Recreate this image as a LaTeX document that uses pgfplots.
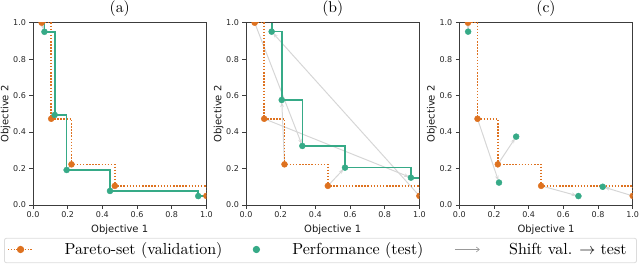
\documentclass[border=0pt]{standalone}
\usepackage{fontspec}
\usepackage{graphicx}
\usepackage{pgfplots}
\pgfplotsset{compat=1.18}
\usetikzlibrary{arrows.meta}
\newfontfamily\dejavu{DejaVu Sans}
\definecolor{dorange}{HTML}{D95F02}
\definecolor{dgreen}{HTML}{1B9E77}
\definecolor{sgrey}{HTML}{D6D6D6}
\definecolor{spine}{HTML}{3C3C3C}
\definecolor{lframe}{HTML}{DCDCDC}
\colorlet{lorange}{dorange!88!white}
\colorlet{lgreen}{dgreen!88!white}

\pgfplotsset{
  panel/.style={
    scale only axis, width=173.4pt, height=182.3pt, anchor=south west,
    xmin=0, xmax=1, ymin=0, ymax=1,
    xtick={0,0.2,0.4,0.6,0.8,1}, ytick={0,0.2,0.4,0.6,0.8,1},
    /pgf/number format/fixed, /pgf/number format/fixed zerofill,
    /pgf/number format/precision=1, /pgf/number format/assume math mode=true,
    tick label style={font=\dejavu\fontsize{8}{9.6}\selectfont, text=black!85},
    label style={font=\dejavu\fontsize{10}{12}\selectfont, text=black!90},
    xlabel={Objective 1}, ylabel={Objective 2},
    ylabel shift=-4pt,
    tick align=outside, xtick pos=left, ytick pos=left,
    major tick length=3.5pt,
    tick style={spine, line width=0.8pt},
    axis line style={spine, line width=0.8pt},
    title style={inner sep=0pt},
    clip marker paths=true,
  },
  valstep/.style={lorange, line width=1.5pt, dash pattern=on 1.5pt off 1.6pt, const plot, mark=none, forget plot},
  teststep/.style={lgreen, line width=1.7pt, const plot, mark=none, forget plot},
  valmark/.style={only marks, mark=*, mark size=3pt, mark options={fill=lorange, draw=lorange}, forget plot},
  testmark/.style={only marks, mark=*, mark size=3pt, mark options={fill=lgreen, draw=lgreen}, forget plot},
  shift/.style={sgrey, line width=1pt, -{Stealth[length=5pt,width=3.6pt]}, mark=none, shorten >=2pt, forget plot},
}

\pgfplotstableread{
x y
0.050 1.000
0.105 0.473
0.222 0.223
0.472 0.105
1.000 0.050
}\valdata

\pgfplotstableread{
x y
0.066 0.950
0.125 0.494
0.194 0.192
0.444 0.077
0.953 0.049
}\testa

\pgfplotstableread{
x y
0.066 1.000
0.066 0.950
0.125 0.494
0.194 0.192
0.444 0.077
0.953 0.049
1.000 0.049
}\testastep

\pgfplotstableread{
x y
0.148 0.951
0.206 0.576
0.325 0.324
0.571 0.205
0.951 0.150
}\testb

\pgfplotstableread{
x y
0.148 1.000
0.148 0.951
0.206 0.576
0.325 0.324
0.571 0.205
0.951 0.150
1.000 0.150
}\testbstep

\pgfplotstableread{
x y
0.051 0.951
0.229 0.123
0.328 0.375
0.687 0.049
0.827 0.100
}\testc

\begin{document}
\begin{tikzpicture}
\path[use as bounding box] (0,0) rectangle (640pt,265pt);

% ---------------- (a)
\begin{axis}[panel, at={(33pt,60pt)}, title={\scalebox{1.56}{(a)}}]
\addplot[shift] coordinates {(0.050,1.000) (0.066,0.950)};
\addplot[shift] coordinates {(0.105,0.473) (0.125,0.494)};
\addplot[shift] coordinates {(0.222,0.223) (0.194,0.192)};
\addplot[shift] coordinates {(0.472,0.105) (0.444,0.077)};
\addplot[shift] coordinates {(1.000,0.050) (0.953,0.049)};
\addplot[valstep] table {\valdata};
\addplot[teststep] table {\testastep};
\addplot[valmark] table {\valdata};
\addplot[testmark] table {\testa};
\end{axis}

% ---------------- (b)
\begin{axis}[panel, at={(246pt,60pt)}, title={\scalebox{1.56}{(b)}},
  legend columns=3,
  legend cell align=left,
  legend style={at={(-1.3956,-0.2496)}, anchor=west,
    draw=lframe, line width=0.8pt, rounded corners=2pt,
    inner xsep=3pt, inner ysep=4.2pt,
    nodes={inner sep=0pt, text height=12pt, text depth=4pt},
    /tikz/column 1/.style={column sep=31pt},
    /tikz/column 2/.style={column sep=21.5pt},
    /tikz/column 3/.style={column sep=23.5pt},
    /tikz/column 4/.style={column sep=31pt},
    /tikz/column 5/.style={column sep=29pt},
  }]
\addplot[shift] coordinates {(0.050,1.000) (0.325,0.324)};
\addplot[shift] coordinates {(0.105,0.473) (0.951,0.150)};
\addplot[shift] coordinates {(0.222,0.223) (0.206,0.576)};
\addplot[shift] coordinates {(0.472,0.105) (0.571,0.205)};
\addplot[shift] coordinates {(1.000,0.050) (0.148,0.951)};
\addplot[valstep] table {\valdata};
\addplot[teststep] table {\testbstep};
\addplot[valmark] table {\valdata};
\addplot[testmark] table {\testb};
\addlegendimage{legend image code/.code={
  \draw[lorange, line width=1.3pt, dash pattern=on 1.3pt off 1.5pt] (0pt,1pt) -- (25pt,1pt);
  \fill[lorange] (12.5pt,1pt) circle (3.2pt);}}
\addlegendentry{\scalebox{1.6}{Pareto-set (validation)}}
\addlegendimage{legend image code/.code={
  \path[draw=none] (0pt,1pt) -- (25pt,1pt);
  \fill[lgreen] (12.5pt,1pt) circle (3.2pt);}}
\addlegendentry{\scalebox{1.6}{Performance (test)}}
\addlegendimage{legend image code/.code={
  \draw[black!40, line width=0.6pt, -{Straight Barb[length=3pt,width=5pt]}] (0pt,1pt) -- (25pt,1pt);}}
\addlegendentry{\scalebox{1.6}{Shift val. $\rightarrow$ test}\hspace*{7pt}}
\end{axis}

% ---------------- (c)
\begin{axis}[panel, at={(459.3pt,60pt)}, title={\scalebox{1.56}{(c)}}]
\addplot[shift] coordinates {(0.050,1.000) (0.051,0.951)};
\addplot[shift] coordinates {(0.105,0.473) (0.229,0.123)};
\addplot[shift] coordinates {(0.222,0.223) (0.328,0.375)};
\addplot[shift] coordinates {(0.472,0.105) (0.687,0.049)};
\addplot[shift] coordinates {(1.000,0.050) (0.827,0.100)};
\addplot[valstep] table {\valdata};
\addplot[valmark] table {\valdata};
\addplot[testmark] table {\testc};
\end{axis}
\end{tikzpicture}
\end{document}
